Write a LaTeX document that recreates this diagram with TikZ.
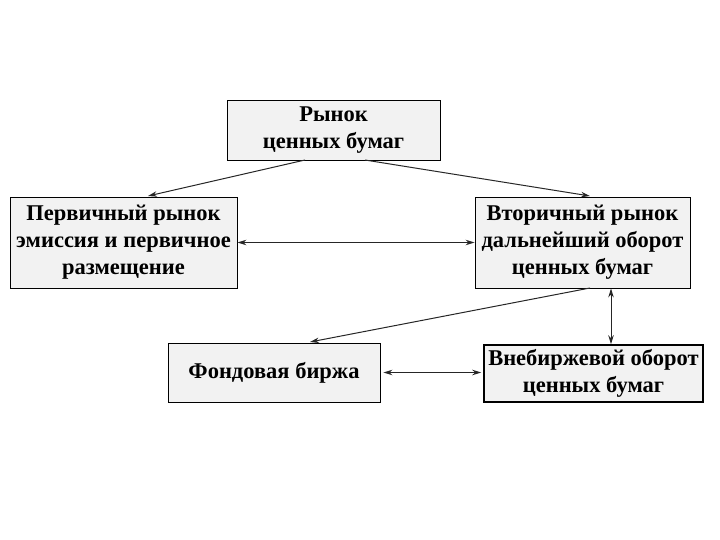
\documentclass[tikz,border=0pt]{standalone}
\usepackage{fontspec}
\setmainfont{Liberation Serif}
\usetikzlibrary{arrows.meta}
\begin{document}
\begin{tikzpicture}[x=1pt,y=-1pt,
  box/.style={draw=black, fill=gray!10, line width=0.9pt, align=center,
    font=\fontsize{22.5}{27}\selectfont\bfseries, inner sep=0pt},
  conn/.style={line width=1pt, draw=black!85, -{Stealth[length=9pt,width=5.5pt]}},
  dconn/.style={line width=1pt, draw=black!85, {Stealth[length=9pt,width=5.5pt]}-{Stealth[length=9pt,width=5.5pt]}}]
\useasboundingbox (0,0) rectangle (720,540);
\node[box, minimum width=213pt, minimum height=60pt] (top) at (333.5,130) {Рынок\\ценных бумаг};
\node[box, minimum width=227pt, minimum height=91pt] (left) at (123.5,242.5) {Первичный рынок\\эмиссия и первичное\\размещение};
\node[box, minimum width=215pt, minimum height=91pt] (right) at (582.5,242.5) {Вторичный рынок\\дальнейший оборот\\ценных бумаг};
\node[box, minimum width=212pt, minimum height=59pt] (fb) at (274,372.5) {Фондовая биржа};
\node[box, line width=1.6pt, minimum width=219pt, minimum height=57pt] (otc) at (593.5,373.5) {Внебиржевой оборот\\ценных бумаг};
\coordinate (t1) at (305,160);
\coordinate (t2) at (365,160);
\coordinate (l1) at (148,196);
\coordinate (r1) at (590,196);
\coordinate (r2) at (590,288);
\coordinate (f1) at (310,342);
\draw[conn] (t1) -- (l1);
\draw[conn] (t2) -- (r1);
\draw[dconn] (left.east) -- (right.west);
\draw[conn] (r2) -- (f1);
\draw[dconn] (right.south -| 611,0) -- (otc.north -| 611,0);
\draw[dconn] ([xshift=3pt]fb.east) -- ([xshift=-2pt]otc.west |- fb.east);
\end{tikzpicture}
\end{document}
